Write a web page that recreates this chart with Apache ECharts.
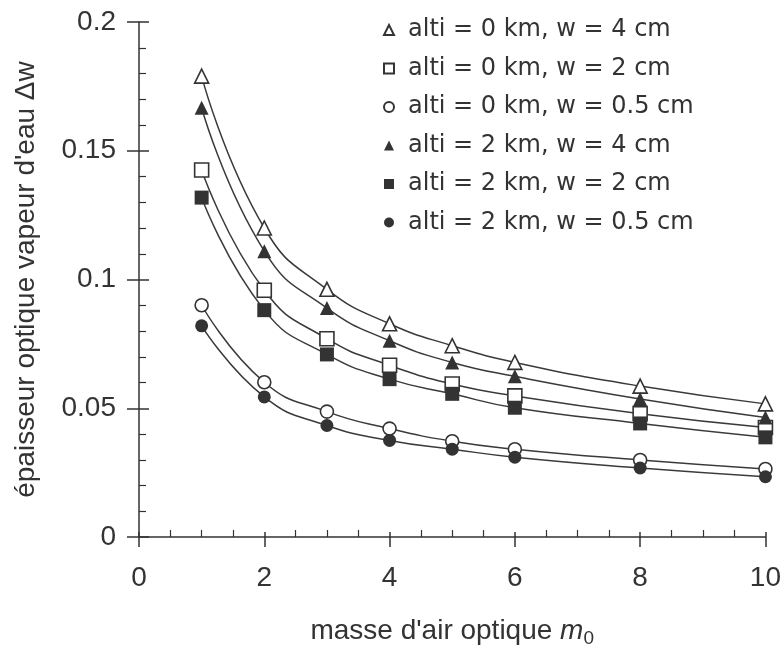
<!DOCTYPE html>
<html><head><meta charset="utf-8">
<script src="https://cdn.jsdelivr.net/npm/echarts@6/dist/echarts.min.js"></script>
<style>html,body{margin:0;padding:0;background:#fff}#c{width:784px;height:653px}</style>
</head><body><div id="c"></div>
<script>
const airMass = [1, 2, 3, 4, 5, 6, 8, 10];
const seriesNames = [
  'alti = 0 km, w = 4 cm',
  'alti = 0 km, w = 2 cm',
  'alti = 0 km, w = 0.5 cm',
  'alti = 2 km, w = 4 cm',
  'alti = 2 km, w = 2 cm',
  'alti = 2 km, w = 0.5 cm'
];
const alt0w4  = [0.179, 0.120, 0.0962, 0.0828, 0.0743, 0.0678, 0.0586, 0.0517];
const alt0w2  = [0.1425, 0.0958, 0.0770, 0.0667, 0.0594, 0.0548, 0.0479, 0.0425];
const alt0w05 = [0.0900, 0.0601, 0.0487, 0.0421, 0.0372, 0.0341, 0.0299, 0.0264];
const alt2w4  = [0.1667, 0.1110, 0.0889, 0.0762, 0.0678, 0.0624, 0.0536, 0.0464];
const alt2w2  = [0.1318, 0.0881, 0.0709, 0.0613, 0.0556, 0.0502, 0.0441, 0.0387];
const alt2w05 = [0.0820, 0.0544, 0.0433, 0.0375, 0.0341, 0.0310, 0.0268, 0.0234];
const xTicks = [0, 2, 4, 6, 8, 10];
const yTicks = [0, 0.05, 0.1, 0.15, 0.2];

const ink = '#333333';
const font = 'Liberation Sans, Arial, sans-serif';
const symbols = ['triangle', 'rect', 'circle', 'triangle', 'rect', 'circle'];
const hollow = [true, true, true, false, false, false];
const sizes = [14, 14, 13, 14, 14, 13];
const values = [alt0w4, alt0w2, alt0w05, alt2w4, alt2w2, alt2w05];

const series = values.map((vals, i) => ({
  name: seriesNames[i],
  type: 'line',
  xAxisIndex: 0, yAxisIndex: 0,
  data: airMass.map((x, j) => [x, vals[j]]),
  smooth: 0.5,
  symbol: symbols[i],
  symbolSize: sizes[i],
  showAllSymbol: true,
  lineStyle: { color: '#3a3a3a', width: 1.5 },
  itemStyle: hollow[i]
    ? { color: '#ffffff', borderColor: ink, borderWidth: 1.6 }
    : { color: ink, borderColor: ink, borderWidth: 0 },
  emphasis: { disabled: true },
  z: hollow[i] ? 3 : 4
}));

const chart = echarts.init(document.getElementById('c'), null, { renderer: 'canvas' });
chart.setOption({
  animation: false,
  backgroundColor: '#ffffff',
  textStyle: { fontFamily: font, color: ink },
  grid: { left: 139, right: 16, top: 22, bottom: 111, containLabel: false },
  legend: {
    orient: 'vertical',
    left: 378, top: 13,
    itemWidth: 10, itemHeight: 10,
    itemGap: 14.5,
    data: seriesNames.map((n, i) => ({ name: n, icon: symbols[i] })),
    textStyle: { fontFamily: 'DejaVu Sans, sans-serif', fontSize: 24, lineHeight: 24, color: ink, padding: [0, 0, 0, 9] },
    selectedMode: false
  },
  xAxis: [{
    type: 'value', min: 0, max: 10, interval: 2,
    name: '{t|masse d\'air optique }{m|m}{s|0}',
    nameLocation: 'middle', nameGap: 77,
    nameTextStyle: {
      fontFamily: font, fontSize: 28, color: ink,
      rich: {
        t: { fontFamily: font, fontSize: 28, color: ink, lineHeight: 34 },
        m: { fontFamily: font, fontSize: 28, fontStyle: 'italic', color: ink, lineHeight: 34 },
        s: { fontFamily: font, fontSize: 19, color: ink, lineHeight: 34, verticalAlign: 'bottom' }
      }
    },
    axisLine: { show: true, onZero: false, lineStyle: { color: ink, width: 1.5 } },
    axisTick: { show: true, inside: true, length: 5, lineStyle: { color: ink, width: 1.5 } },
    minorTick: { show: true, splitNumber: 4, length: 7, lineStyle: { color: ink, width: 1.2 } },
    axisLabel: { fontFamily: font, fontSize: 28, color: ink, margin: 27,
      formatter: v => (xTicks.indexOf(v) >= 0 ? String(v) : '') },
    splitLine: { show: false }
  }, {
    type: 'value', min: 0, max: 10, interval: 2, position: 'bottom', gridIndex: 0,
    axisLine: { show: false },
    axisTick: { show: true, inside: false, length: 10, lineStyle: { color: ink, width: 1.5 } },
    axisLabel: { show: false }, splitLine: { show: false }
  }],
  yAxis: [{
    type: 'value', min: 0, max: 0.2, interval: 0.05,
    name: 'épaisseur optique vapeur d\'eau Δw',
    nameLocation: 'middle', nameGap: 99, nameRotate: 90,
    nameTextStyle: { fontFamily: font, fontSize: 28, color: ink },
    axisLine: { show: true, onZero: false, lineStyle: { color: ink, width: 1.5 } },
    axisTick: { show: true, inside: true, length: 10, lineStyle: { color: ink, width: 1.5 } },
    minorTick: { show: true, splitNumber: 5, length: 7, lineStyle: { color: ink, width: 1.2 } },
    axisLabel: { fontFamily: font, fontSize: 28, color: ink, margin: 23,
      formatter: v => { const k = yTicks.findIndex(t => Math.abs(t - v) < 1e-9); return k >= 0 ? String(yTicks[k]) : ''; } },
    splitLine: { show: false }
  }, {
    type: 'value', min: 0, max: 0.2, interval: 0.05, position: 'left', gridIndex: 0,
    axisLine: { show: false },
    axisTick: { show: true, inside: false, length: 12, lineStyle: { color: ink, width: 1.5 } },
    axisLabel: { show: false }, splitLine: { show: false }
  }],
  series: series
});
</script>
</body></html>
